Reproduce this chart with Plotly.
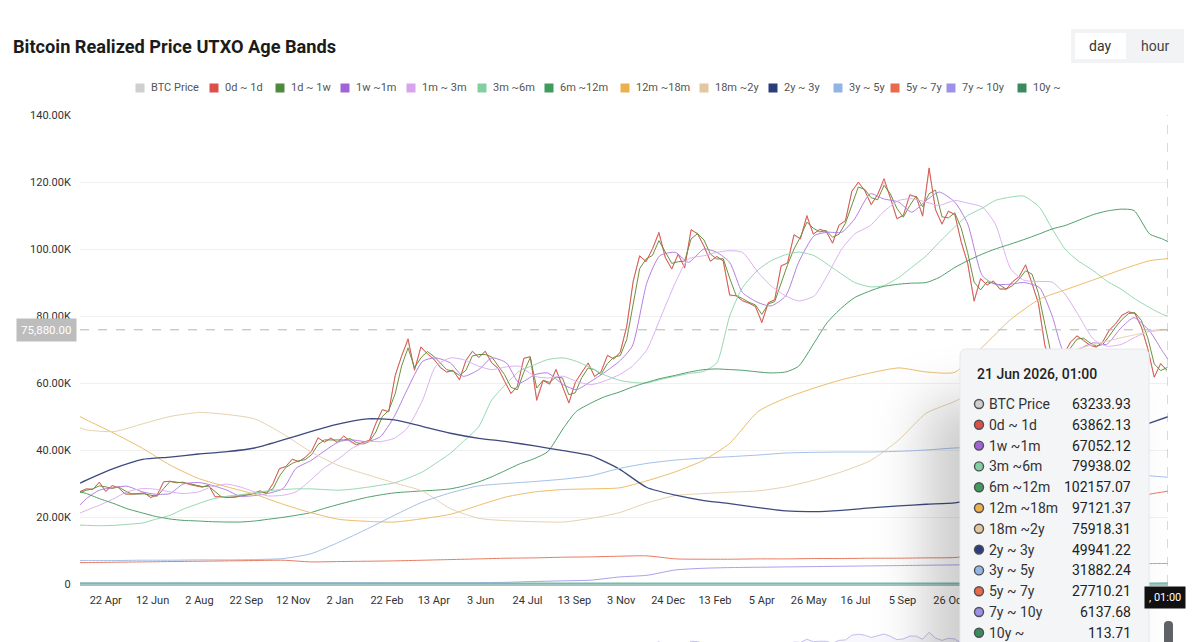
import base64
import pandas as pd
import plotly.graph_objects as go

# ---------------- data (values in thousands of USD) ----------------
week_start = "2023-03-25"
btc_price = [
    27.5, 28.5, 28.3, 30.3, 27.8, 29.3, 28.8, 26.8, 26.9, 26.8,
    27.1, 25.9, 26.5, 30.6, 30.6, 30.3, 30.3, 29.8, 29.3, 29.0,
    29.4, 26.1, 26.0, 25.9, 25.9, 26.6, 26.6, 27.0, 27.9, 26.9,
    29.9, 34.5, 35.0, 37.1, 36.6, 37.7, 39.5, 43.8, 42.2, 43.7,
    42.1,
    44.0, 42.8, 41.6, 42.1, 43.0, 47.8, 52.1, 51.6, 62.0,
    68.3, 72.5, 64.0, 70.5, 68.9, 67.0, 64.9, 63.1, 63.9, 60.8,
    66.9, 69.3, 67.8, 69.3, 66.2, 64.2, 60.8, 56.7, 59.2, 67.2,
    68.0, 55.5, 60.9, 59.5, 64.2, 58.9, 54.2, 60.0, 63.3, 65.8,
    62.1, 63.2, 68.4, 67.0, 69.4, 76.7, 90.6, 97.7, 96.4, 99.8,
    104.5, 97.2, 94.2,
    98.2, 94.6, 105.5, 104.8, 100.6, 96.5, 97.6,
    96.6, 86.0, 86.2, 84.3, 84.0, 82.6, 78.5, 83.7, 85.0, 94.7,
    96.0, 104.0, 103.2, 109.5, 104.6, 105.6, 105.5, 101.5, 107.3, 108.2,
    117.5, 119.5, 117.6, 113.0, 116.5, 120.0, 115.4, 108.8, 110.2, 115.9,
    115.7, 109.6, 123.5, 112.0, 107.2, 111.5, 110.1, 102.3, 95.5, 84.7,
    90.9, 89.5, 90.2, 88.3, 87.8,
    90.5, 91.5, 95.5, 89.5, 84.0,
    71.0, 66.0, 67.0, 69.0, 72.0, 74.3, 72.5, 71.5, 70.5, 72.5,
    75.5, 77.9, 80.0, 81.5, 80.5, 77.0, 70.0, 61.5, 66.0, 63.23,
]
band_0d_1d = [
    27.6, 28.4, 28.2, 30.4, 27.6, 29.4, 28.7, 26.9, 26.8, 26.9,
    27.2, 25.8, 26.6, 30.5, 30.7, 30.2, 30.4, 29.7, 29.4, 28.9,
    29.5, 26.0, 26.1, 25.8, 26.0, 26.5, 26.7, 27.1, 27.8, 27.0,
    30.0, 34.4, 35.1, 37.3, 36.5, 37.8, 39.7, 43.6, 42.4, 43.5,
    42.3,
    44.2, 42.6, 41.5, 42.3, 42.9, 48.0, 52.0, 51.4, 62.3,
    68.0, 73.2, 63.8, 70.8, 68.7, 67.2, 64.6, 63.3, 63.7, 61.0,
    66.7, 69.5, 67.6, 69.5, 66.0, 64.4, 60.5, 56.9, 59.0, 67.4,
    67.8, 54.8, 60.7, 59.7, 64.0, 59.1, 54.0, 60.2, 63.1, 66.0,
    61.9, 63.4, 68.2, 67.2, 69.2, 77.0, 90.3, 98.0, 96.2, 100.1,
    105.0, 97.5, 94.0,
    98.5, 94.3, 105.8, 104.5, 100.9, 96.3, 97.8,
    96.4, 86.3, 86.0, 84.6, 83.8, 82.9, 78.0, 84.0, 84.8, 95.0,
    95.8, 104.3, 103.0, 110.0, 104.4, 105.9, 105.2, 101.8, 107.1, 108.5,
    117.2, 120.0, 117.4, 113.3, 116.2, 121.0, 115.1, 109.1, 110.0, 116.2,
    115.5, 109.9, 124.2, 111.7, 107.5, 111.2, 110.4, 102.0, 95.8, 84.4,
    91.2, 89.2, 90.5, 88.0, 88.1,
    90.2, 91.8, 95.2, 89.8, 83.7,
    71.3, 65.8, 67.3, 68.7, 72.3, 74.0, 72.8, 71.2, 70.8, 72.2,
    75.8, 77.6, 80.3, 81.2, 80.8, 76.7, 70.3, 61.8, 65.7, 63.86,
]
band_1d_1w = [
    27.3, 28.0, 28.4, 29.3, 29.0, 28.5, 29.0, 27.8, 26.9, 26.8,
    26.9, 26.5, 26.2, 28.5, 30.6, 30.4, 30.3, 30.0, 29.5, 29.1,
    29.2, 27.7, 26.0, 25.9, 25.9, 26.2, 26.6, 26.8, 27.4, 27.4,
    28.4, 32.2, 34.8, 36.0, 36.8, 37.1, 38.6, 41.6, 43.0, 43.0,
    42.9,
    43.0, 43.4, 42.2, 41.8, 42.5, 45.4, 50.0, 51.8, 56.8,
    65.1, 70.5, 64.6, 67.5, 69.4, 68.0, 66.0, 64.0, 63.5, 62.3,
    63.8, 68.1, 68.5, 68.5, 67.8, 65.2, 62.5, 58.7, 58.0, 63.2,
    67.6, 58.5, 60.8, 60.2, 61.8, 61.5, 56.5, 57.1, 61.6, 64.5,
    64.0, 62.6, 65.8, 67.7, 68.2, 73.0, 83.6, 94.1, 97.0, 98.1,
    102.5, 99.3, 95.7,
    96.2, 96.4, 103.0, 104.6, 102.7, 98.5, 97.0,
    97.1, 91.3, 86.1, 85.2, 84.1, 83.3, 80.5, 83.6, 84.3, 89.8,
    95.3, 100.0, 103.6, 108.0, 106.2, 105.1, 105.5, 103.5, 104.4, 107.7,
    112.8, 118.5, 117.8, 115.3, 114.7, 119.0, 116.4, 112.1, 109.5, 113.0,
    115.8, 112.6, 116.5, 117.6, 109.6, 109.3, 110.8, 106.2, 98.9, 90.1,
    87.8, 90.2, 89.8, 89.2, 88.0,
    89.1, 91.0, 93.5, 92.5, 86.8,
    77.5, 68.5, 66.5, 68.0, 70.5, 73.1, 73.4, 72.0, 71.0, 71.5,
    74.0, 76.7, 79.0, 80.7, 81.0, 78.7, 73.5, 65.7, 63.7, 64.6,
]

# semi-monthly grid: 2023-03-25, 1st & 15th of each month Apr 2023..Jun 2026, 2026-06-21
band_1w_1m = [
    23.6,
    25.5, 28.0, 28.8, 29.2, 27.5, 26.8, 27.0, 29.8, 30.3, 29.5, 28.0, 26.2, 26.4, 27.0, 28.5, 34.5, 36.8, 39.5,
    42.5, 43.0, 42.5, 44.0, 50.0, 58.0, 66.5, 67.5, 66.0, 62.0, 64.0, 67.5, 66.0, 60.0, 62.5, 63.0, 59.5, 58.0, 60.5, 63.0, 66.5, 71.0, 90.0, 98.0,
    99.0, 96.0, 100.0, 99.0, 96.0, 87.0, 84.0, 83.0, 86.0, 96.0, 104.0, 105.0, 105.0, 109.0, 116.5, 115.0, 114.0, 111.0, 114.5, 117.0, 114.0, 107.5, 92.0, 89.5,
    89.5, 90.0, 88.5, 80.0, 68.5, 70.0, 72.0, 71.5, 76.5, 79.5, 75.5, 69.5,
    67.05,
]
band_1m_3m = [
    21.2,
    22.0, 23.5, 25.5, 27.5, 28.5, 28.3, 27.5, 27.0, 27.5, 29.0, 29.8, 29.0, 27.5, 26.3, 26.5, 27.5, 31.0, 34.5,
    37.5, 40.5, 42.5, 42.5, 43.5, 46.5, 55.0, 65.0, 67.5, 67.0, 65.0, 64.0, 64.8, 65.0, 62.0, 61.5, 62.0, 60.5, 59.5, 60.5, 62.5, 65.0, 70.0, 79.0,
    90.0, 97.0, 98.0, 99.0, 99.5, 99.0, 93.0, 89.0, 86.0, 84.5, 86.0, 92.0, 100.0, 104.5, 107.0, 111.0, 114.5, 115.0, 114.0, 113.0, 114.5, 113.7, 112.5, 107.5,
    94.0, 90.7, 90.3, 90.1, 86.5, 80.5, 73.0, 71.0, 71.5, 73.5, 75.5, 76.0,
    75.8,
]
band_3m_6m = [
    17.6,
    17.5, 17.4, 17.5, 17.8, 18.2, 19.3, 20.5, 22.3, 24.0, 25.3, 26.2, 26.6, 27.2, 27.8, 28.2, 28.4, 28.4, 28.2,
    28.0, 28.3, 28.9, 29.5, 30.2, 31.5, 33.5, 36.0, 39.0, 42.5, 47.0, 54.9, 59.8, 63.5, 65.5, 67.0, 67.5, 66.5, 64.5, 62.5, 60.8, 60.2, 60.0, 61.0,
    62.0, 62.8, 63.5, 66.0, 80.0, 88.5, 93.8, 96.5, 98.3, 99.1, 98.0, 95.5, 92.5, 90.0, 88.7, 89.0, 91.5, 94.5, 98.0, 102.0, 106.6, 110.0, 112.2, 114.5,
    115.5, 115.8, 112.5, 106.0, 100.0, 96.5, 93.5, 90.5, 88.0, 85.3, 82.5, 80.5,
    79.94,
]
band_6m_12m = [
    27.5,
    27.0, 25.5, 24.0, 22.5, 21.2, 20.2, 19.4, 19.0, 18.8, 18.6, 18.5, 18.5, 18.8, 19.3, 19.9, 20.5, 21.3, 22.5,
    23.8, 24.8, 25.9, 26.6, 27.2, 27.5, 27.8, 28.0, 28.4, 29.2, 30.5, 32.0, 34.0, 35.8, 37.5, 39.5, 46.5, 51.5, 54.0, 55.8, 57.3, 58.8, 60.2, 61.3,
    62.3, 63.2, 64.0, 64.2, 64.0, 63.8, 63.3, 63.0, 63.3, 65.0, 72.0, 78.0, 82.5, 85.5, 87.5, 88.8, 89.5, 89.8, 90.0, 91.5, 94.5, 96.5, 98.5, 100.0,
    101.5, 102.8, 104.5, 106.0, 107.0, 108.5, 110.3, 111.3, 111.9, 111.5, 104.5, 103.0,
    102.16,
]

# monthly grid: 2023-03-25, 1st of each month Apr 2023..Jun 2026, 2026-06-21
band_12m_18m = [
    50.0, 49.0, 45.0, 40.5, 35.5, 31.5, 29.0, 26.8, 23.8, 21.3,
    19.3, 18.7, 18.5, 19.5, 20.8, 23.5, 26.0, 27.5, 28.2, 28.4, 28.7, 30.8,
    33.5, 37.0, 42.0, 51.5, 55.5, 58.5, 61.0, 63.0, 64.5, 63.3, 63.2, 70.7,
    79.0, 85.0, 87.8, 90.8, 93.8, 96.5, 97.12,
]
band_18m_2y = [
    46.6, 46.0, 45.5, 47.8, 50.0, 51.2, 50.6, 49.3, 44.8, 39.5,
    35.3, 32.6, 30.2, 27.7, 22.5, 19.6, 18.9, 18.6, 18.5, 19.6, 21.3, 24.2,
    26.4, 27.0, 27.4, 27.8, 29.0, 31.0, 33.5, 36.8, 43.0, 51.0, 54.5, 59.0,
    63.0, 66.0, 69.0, 71.5, 73.5, 75.3, 75.92,
]
band_2y_3y = [
    30.1, 31.0, 34.5, 37.2, 37.9, 38.8, 39.5, 40.6, 43.0, 45.5,
    47.8, 49.3, 49.0, 47.0, 45.0, 43.5, 42.5, 41.2, 39.8, 38.3, 34.3, 28.8,
    26.5, 24.9, 24.0, 22.8, 21.8, 21.6, 22.0, 22.7, 23.3, 23.8, 24.2, 26.0,
    29.0, 33.0, 37.0, 41.5, 45.0, 48.0, 49.94,
]
band_3y_5y = [
    7.0, 7.0, 7.0, 7.1, 7.1, 7.2, 7.2, 7.3, 7.6, 9.0,
    12.5, 16.5, 20.5, 24.5, 27.2, 29.3, 30.0, 30.6, 31.3, 32.3, 34.5, 36.0,
    37.0, 37.6, 38.0, 38.5, 39.1, 39.3, 39.4, 39.4, 39.6, 40.0, 40.6, 40.8,
    40.5, 39.0, 37.5, 35.5, 33.5, 32.3, 31.88,
]
band_5y_7y = [
    6.4, 6.4, 6.5, 6.6, 6.7, 6.8, 6.9, 7.0, 7.1, 6.6,
    6.7, 6.8, 6.9, 7.1, 7.3, 7.5, 7.7, 7.8, 8.0, 8.1, 8.3, 8.4,
    7.5, 7.4, 7.4, 7.5, 7.5, 7.6, 7.6, 7.7, 7.7, 7.8, 7.9, 9.0,
    11.5, 14.5, 17.5, 21.0, 24.5, 26.8, 27.71,
]
band_7y_10y = [
    0.33, 0.33, 0.34, 0.34, 0.35, 0.35, 0.35, 0.36, 0.36, 0.37,
    0.37, 0.38, 0.38, 0.39, 0.39, 0.40, 0.50, 0.75, 0.95, 1.15, 2.10, 2.60,
    4.20, 4.70, 4.90, 5.00, 5.10, 5.20, 5.30, 5.40, 5.50, 5.60, 5.70, 5.80,
    5.85, 5.90, 5.95, 6.00, 6.05, 6.10, 6.14,
]
band_10y = [
    0.09, 0.09, 0.09, 0.09, 0.09, 0.09, 0.09, 0.09, 0.09, 0.09,
    0.10, 0.10, 0.10, 0.10, 0.10, 0.10, 0.10, 0.10, 0.10, 0.10, 0.10, 0.10,
    0.10, 0.10, 0.10, 0.10, 0.11, 0.11, 0.11, 0.11, 0.11, 0.11, 0.11, 0.11,
    0.11, 0.11, 0.11, 0.11, 0.11, 0.11, 0.114,
]

series_names = ["BTC Price", "0d ~ 1d", "1d ~ 1w", "1w ~1m", "1m ~ 3m", "3m ~6m", "6m ~12m",
                "12m ~18m", "18m ~2y", "2y ~ 3y", "3y ~ 5y", "5y ~ 7y", "7y ~ 10y", "10y ~"]
series_colors = ["#cfcfcf", "#dc4f4a", "#4f8a3c", "#a064d6", "#d8a4ee", "#82d0a2", "#3f9a5c",
                 "#ecb04e", "#e3c89f", "#2c3d7a", "#92b5e6", "#e8694b", "#9c90ea", "#3a8a5e"]
line_colors = ["#cfcfcf", "#e0574f", "#6f8f3e", "#b47fe2", "#dcb2f0", "#95d8b0", "#4f9f6a",
               "#edbd6a", "#e6d2b0", "#3c4a7e", "#a3c0ea", "#e97a60", "#aaa0ee", "#7fb9ab"]

x_tick_dates = ["2023-04-22", "2023-06-12", "2023-08-02", "2023-09-22", "2023-11-12", "2024-01-02",
                "2024-02-22", "2024-04-13", "2024-06-03", "2024-07-24", "2024-09-13", "2024-11-03",
                "2024-12-24", "2025-02-13", "2025-04-05", "2025-05-26", "2025-07-16", "2025-09-05",
                "2025-10-26"]
x_tick_labels = ["22 Apr", "12 Jun", "2 Aug", "22 Sep", "12 Nov", "2 Jan", "22 Feb", "13 Apr", "3 Jun",
                 "24 Jul", "13 Sep", "3 Nov", "24 Dec", "13 Feb", "5 Apr", "26 May", "16 Jul", "5 Sep",
                 "26 Oct"]
y_tick_vals = [0, 20, 40, 60, 80, 100, 120, 140]
y_tick_labels = ["0", "20.00K", "40.00K", "60.00K", "80.00K", "100.00K", "120.00K", "140.00K"]

crosshair_value = 75.88
crosshair_label = "75,880.00"
tooltip_title = "21 Jun 2026, 01:00"
tooltip_names = ["BTC Price", "0d ~ 1d", "1w ~1m", "3m ~6m", "6m ~12m", "12m ~18m", "18m ~2y",
                 "2y ~ 3y", "3y ~ 5y", "5y ~ 7y", "7y ~ 10y", "10y ~"]
tooltip_values = ["63233.93", "63862.13", "67052.12", "79938.02", "102157.07", "97121.37", "75918.31",
                  "49941.22", "31882.24", "27710.21", "6137.68", "113.71"]

# ---------------- x grids ----------------
week_dates = pd.date_range(week_start, periods=len(btc_price), freq="7D")
semi_dates = ([pd.Timestamp("2023-03-25")] + list(pd.date_range("2023-04-01", "2026-06-15", freq="SMS"))
              + [pd.Timestamp("2026-06-21")])
month_dates = ([pd.Timestamp("2023-03-25")] + list(pd.date_range("2023-04-01", "2026-06-01", freq="MS"))
               + [pd.Timestamp("2026-06-21")])
for arr in (band_0d_1d, band_1d_1w):
    assert len(arr) == len(week_dates), len(arr)
for arr in (band_1w_1m, band_1m_3m, band_3m_6m, band_6m_12m):
    assert len(arr) == len(semi_dates), (len(arr), len(semi_dates))
for arr in (band_12m_18m, band_18m_2y, band_2y_3y, band_3y_5y, band_5y_7y, band_7y_10y, band_10y):
    assert len(arr) == len(month_dates), (len(arr), len(month_dates))

series = [
    (week_dates, btc_price), (week_dates, band_0d_1d), (week_dates, band_1d_1w),
    (semi_dates, band_1w_1m), (semi_dates, band_1m_3m), (semi_dates, band_3m_6m), (semi_dates, band_6m_12m),
    (month_dates, band_12m_18m), (month_dates, band_18m_2y), (month_dates, band_2y_3y),
    (month_dates, band_3y_5y), (month_dates, band_5y_7y), (month_dates, band_7y_10y), (month_dates, band_10y),
]

# ---------------- layout geometry (pixels) ----------------
W, H = 1199, 642
PL, PR, PT, PB = 80, 1168, 115, 642
Y0 = 584


def px_x(x):
    return (x - PL) / (PR - PL)


def px_y(y):
    return (PB - y) / (PB - PT)


def P(x, y):
    return f"{px_x(x):.5f},{px_y(y):.5f}"


def rrect(x0, y0, x1, y1, r):
    return (f"M {P(x0 + r, y0)} L {P(x1 - r, y0)} Q {P(x1, y0)} {P(x1, y0 + r)} "
            f"L {P(x1, y1 - r)} Q {P(x1, y1)} {P(x1 - r, y1)} L {P(x0 + r, y1)} "
            f"Q {P(x0, y1)} {P(x0, y1 - r)} L {P(x0, y0 + r)} Q {P(x0, y0)} {P(x0 + r, y0)} Z")


def prect(x0, y0, x1, y1, color):
    return dict(type="rect", xref="paper", yref="paper", x0=px_x(x0), x1=px_x(x1),
                y0=px_y(y1), y1=px_y(y0), fillcolor=color, line=dict(width=0), layer="above")


FONT = "Roboto, 'Noto Sans', sans-serif"
fig = go.Figure()

for (xs, ys), name, color in zip(series, series_names, line_colors):
    smooth = xs is not week_dates
    width = 1.0
    if name == "2y ~ 3y":
        width = 1.3
    elif name == "10y ~":
        width = 2.5
    fig.add_trace(go.Scatter(
        x=xs, y=ys, name=name, mode="lines", showlegend=False, hoverinfo="skip",
        line=dict(color=color, width=width, shape="spline" if smooth else "linear",
                  smoothing=0.6 if smooth else None),
    ))

# mini preview of the data-zoom slider
fig.add_trace(go.Scatter(
    x=week_dates, y=btc_price, mode="lines", showlegend=False, hoverinfo="skip",
    line=dict(color="#c3bfee", width=1), fill="tozeroy", fillcolor="rgba(200,196,240,0.14)",
    xaxis="x2", yaxis="y2",
))

shapes = []
annotations = []

# crosshair
shapes.append(dict(type="line", xref="paper", yref="y", x0=0, x1=1, y0=crosshair_value, y1=crosshair_value,
                   line=dict(color="#b5b5b5", width=1, dash="dash"), layer="above"))
shapes.append(dict(type="line", xref="x", yref="paper", x0="2026-06-21", x1="2026-06-21",
                   y0=px_y(Y0), y1=1, line=dict(color="#b5b5b5", width=1, dash="dash"), layer="above"))
annotations.append(dict(xref="paper", yref="y", x=px_x(77), y=crosshair_value, xanchor="right",
                        yanchor="middle", text=crosshair_label, showarrow=False,
                        font=dict(family=FONT, size=11.5, color="#ffffff"), bgcolor="#bdbdbd",
                        borderpad=4))
annotations.append(dict(xref="paper", yref="paper", x=px_x(1186), y=px_y(597), xanchor="right",
                        yanchor="middle", text=", 01:00", showarrow=False,
                        font=dict(family=FONT, size=11, color="#ffffff"), bgcolor="#111111",
                        borderpad=4))

# title
annotations.append(dict(xref="paper", yref="paper", x=px_x(11), y=px_y(46), xanchor="left", yanchor="middle",
                        text="<b>Bitcoin Realized Price UTXO Age Bands</b>", showarrow=False,
                        font=dict(family=FONT, size=18.2, color="#1b1b1b")))

# day/hour toggle
shapes.append(prect(1071, 29, 1184, 63, "#f2f3f5"))
shapes.append(prect(1075, 33, 1126, 59, "#ffffff"))
annotations.append(dict(xref="paper", yref="paper", x=px_x(1100), y=px_y(46), xanchor="center",
                        yanchor="middle", text="day", showarrow=False,
                        font=dict(family=FONT, size=14, color="#333333")))
annotations.append(dict(xref="paper", yref="paper", x=px_x(1155), y=px_y(46), xanchor="center",
                        yanchor="middle", text="hour", showarrow=False,
                        font=dict(family=FONT, size=14, color="#444444")))

# legend (squares + labels)
legend_sq_x = [140, 214, 280, 345, 411, 482, 549, 625, 704, 773, 838, 895, 951, 1022]
LY = 88
for name, color, sx in zip(series_names, series_colors, legend_sq_x):
    shapes.append(prect(sx - 4.5, LY - 4.5, sx + 4.5, LY + 4.5, color))
    annotations.append(dict(xref="paper", yref="paper", x=px_x(sx + 9), y=px_y(LY), xanchor="left",
                            yanchor="middle", text=name, showarrow=False,
                            font=dict(family=FONT, size=11, color="#555555")))

# tooltip background with soft shadow (image)
IX0, IY0, IX1, IY1 = 740, 270, 1199, 642
TX0, TY0, TX1, TY1 = 960, 349, 1149, 700
svg = f"""<svg xmlns="http://www.w3.org/2000/svg" width="{IX1-IX0}" height="{IY1-IY0}" viewBox="0 0 {IX1-IX0} {IY1-IY0}" preserveAspectRatio="none">
<defs><filter id="s" x="-80%" y="-80%" width="260%" height="260%"><feGaussianBlur stdDeviation="26"/></filter></defs>
<rect x="{TX0-IX0-34}" y="{TY0-IY0+50}" width="{TX1-TX0}" height="{TY1-TY0}" rx="10" fill="#000000" fill-opacity="0.2" filter="url(#s)"/>
<rect x="{TX0-IX0}" y="{TY0-IY0}" width="{TX1-TX0}" height="{TY1-TY0}" rx="6" fill="#f4f5f7" stroke="#e6e7ea" stroke-width="1"/>
</svg>"""
uri = "data:image/svg+xml;base64," + base64.b64encode(svg.encode()).decode()
images = [dict(source=uri, xref="paper", yref="paper", x=px_x(IX0), y=px_y(IY0),
               sizex=(IX1 - IX0) / (PR - PL), sizey=(IY1 - IY0) / (PB - PT),
               xanchor="left", yanchor="top", sizing="stretch", layer="above")]

annotations.append(dict(xref="paper", yref="paper", x=px_x(975), y=px_y(374), xanchor="left",
                        yanchor="middle", text=tooltip_title, showarrow=False,
                        font=dict(family=FONT, size=14, color="#222222", weight=500)))
tip_color = dict(zip(series_names, series_colors))
for k, (nm, val) in enumerate(zip(tooltip_names, tooltip_values)):
    ry = 404 + k * 20.8
    shapes.append(dict(type="circle", xref="paper", yref="paper", xsizemode="pixel", ysizemode="pixel",
                       xanchor=px_x(979), yanchor=px_y(ry), x0=-4.5, x1=4.5, y0=-4.5, y1=4.5,
                       fillcolor=tip_color[nm], line=dict(color="#505050", width=1.4), layer="above"))
    annotations.append(dict(xref="paper", yref="paper", x=px_x(987), y=px_y(ry), xanchor="left",
                            yanchor="middle", text=nm, showarrow=False,
                            font=dict(family=FONT, size=14, color="#333333")))
    annotations.append(dict(xref="paper", yref="paper", x=px_x(1133), y=px_y(ry), xanchor="right",
                            yanchor="middle", text=val, showarrow=False,
                            font=dict(family=FONT, size=14, color="#222222")))

# slider handles
shapes.append(dict(type="path", xref="paper", yref="paper", path=rrect(1164, 621, 1173, 645, 4),
                   fillcolor="#5f6368", line=dict(width=0), layer="above"))

fig.update_layout(
    width=W, height=H,
    margin=dict(l=PL, r=W - PR, t=PT, b=H - PB),
    paper_bgcolor="#ffffff", plot_bgcolor="#ffffff",
    showlegend=False,
    xaxis=dict(type="date", range=["2023-03-25", "2026-06-21"], domain=[0, 1], anchor="y",
               tickvals=x_tick_dates, ticktext=x_tick_labels, showgrid=False, zeroline=False,
               showline=True, linecolor="#9cc8c0", linewidth=1.5, ticks="outside", ticklen=5,
               tickcolor="rgba(0,0,0,0)", tickfont=dict(family=FONT, size=11, color="#333333"),
               automargin=False),
    yaxis=dict(range=[0, 140], domain=[px_y(Y0), 1], anchor="x", tickvals=y_tick_vals,
               ticktext=y_tick_labels, showgrid=True, gridcolor="#f0f0f0", gridwidth=1, zeroline=False,
               showline=False, ticks="outside", ticklen=6, tickcolor="rgba(0,0,0,0)",
               tickfont=dict(family=FONT, size=11, color="#333333"), automargin=False),
    xaxis2=dict(type="date", range=["2023-03-25", "2026-06-21"], domain=[0, 1], anchor="y2", visible=False),
    yaxis2=dict(range=[104, 138], domain=[0, px_y(625)], anchor="x2", visible=False),
    shapes=shapes, annotations=annotations, images=images,
)

fig.write_html("out.html")
